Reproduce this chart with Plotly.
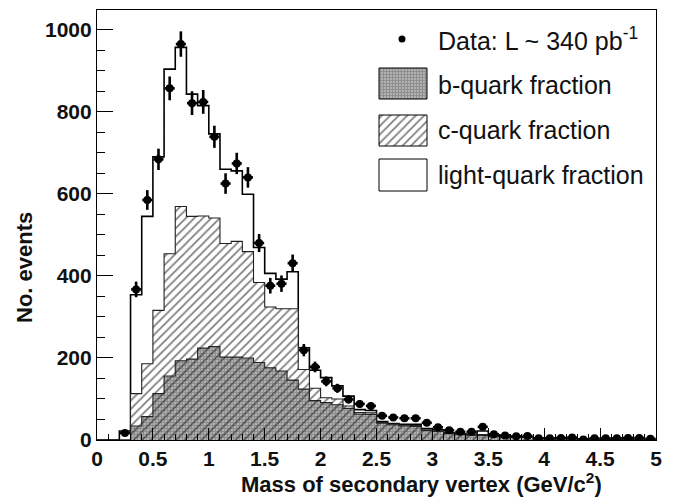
import plotly.graph_objects as go

# ---------------- data ----------------
bin_width = 0.1
bin_edges = [round(i * bin_width, 2) for i in range(51)]

# stacked MC histogram tops per 0.1 bin (0.0 ... 4.9)
total_mc = [0, 0, 22, 354, 545, 690, 904, 957, 843, 815,
            746, 660, 656, 599, 469, 406, 392, 410, 225, 170,
            152, 132, 107, 74, 72, 45, 40, 38, 38, 28,
            25, 18, 15, 14, 22, 10, 9, 8, 8, 5,
            4, 4, 3, 3, 3, 3, 2, 2, 2, 2]
bc_top = [0, 0, 0, 113, 186, 316, 454, 569, 545, 546,
          541, 479, 484, 459, 384, 324, 320, 320, 172, 126,
          103, 100, 83, 67, 66, 43, 39, 36, 35, 25,
          22, 17, 14, 13, 13, 9, 8, 7, 7, 4,
          3, 3, 3, 2, 2, 2, 2, 1, 1, 1]
b_top = [0, 0, 0, 34, 57, 113, 156, 193, 197, 224,
         228, 202, 202, 200, 189, 176, 168, 146, 124, 96,
         91, 86, 77, 63, 62, 41, 37, 34, 33, 23,
         21, 16, 13, 12, 11, 8, 7, 6, 6, 3,
         3, 3, 2, 2, 2, 2, 1, 1, 1, 1]

data_mass = [0.25, 0.35, 0.45, 0.55, 0.65, 0.75, 0.85, 0.95,
             1.05, 1.15, 1.25, 1.35, 1.45, 1.55, 1.65, 1.75, 1.85, 1.95,
             2.05, 2.15, 2.25, 2.35, 2.45, 2.55, 2.65, 2.75, 2.85, 2.95,
             3.05, 3.15, 3.25, 3.35, 3.45, 3.55, 3.65, 3.75, 3.85, 3.95,
             4.05, 4.15, 4.25, 4.35, 4.45, 4.55, 4.65, 4.75, 4.85, 4.95]
data_counts = [17, 367, 585, 684, 857, 965, 821, 824,
               739, 625, 674, 640, 480, 376, 381, 431, 219, 178,
               143, 126, 99, 88, 83, 59, 55, 53, 53, 42,
               31, 24, 20, 20, 32, 14, 11, 9, 10, 4,
               4, 5, 6, 1, 4, 4, 4, 5, 5, 3]
data_err = [4, 19, 24, 26, 29, 31, 29, 29,
            27, 25, 26, 25, 22, 19, 20, 21, 15, 13,
            12, 11, 10, 9, 9, 8, 7, 7, 7, 6,
            6, 5, 4, 4, 6, 4, 3, 3, 3, 2,
            2, 2, 2, 1, 2, 2, 2, 2, 2, 2]

legend_labels = ["Data: L ~ 340 pb<sup>-1</sup>", "b-quark fraction",
                 "c-quark fraction", "light-quark fraction"]

# ---------------- layout geometry ----------------
W, H = 678, 499
L, R, T, B = 97, 22, 10, 59
PX0, PX1 = L, W - R
PY0, PY1 = T, H - B
YMAX = 1048

FONT = "Liberation Sans, Arial, Helvetica, sans-serif"

def px(x):
    return (x - PX0) / (PX1 - PX0)

def py(y):
    return (PY1 - y) / (PY1 - PY0)

def step(vals):
    return list(vals) + [vals[-1]]

hatch_c = dict(shape="/", fgcolor="black", bgcolor="white", size=6, solidity=0.3)
dots_b = dict(shape=".", fgcolor="#202020", bgcolor="rgba(0,0,0,0)", size=3, solidity=0.8)

fig = go.Figure()

fig.add_trace(go.Scatter(x=bin_edges, y=step(total_mc), mode="lines", line_shape="hv",
                         line=dict(color="black", width=1.6), fill="tozeroy",
                         fillcolor="white", showlegend=False, hoverinfo="skip"))
fig.add_trace(go.Scatter(x=bin_edges, y=step(bc_top), mode="lines", line_shape="hv",
                         line=dict(color="#222", width=1.1), fill="tozeroy",
                         fillpattern=hatch_c, showlegend=False, hoverinfo="skip"))
fig.add_trace(go.Scatter(x=bin_edges, y=step(b_top), mode="lines", line_shape="hv",
                         line=dict(color="#222", width=1.1), fill="tozeroy",
                         fillpattern=dots_b, showlegend=False, hoverinfo="skip"))

fig.add_trace(go.Scatter(x=data_mass, y=data_counts, mode="markers",
                         marker=dict(color="black", size=8, symbol="circle"),
                         error_y=dict(type="data", array=data_err, thickness=2.6,
                                      width=0, color="black"),
                         error_x=dict(type="constant", value=0.045, thickness=2.6,
                                      width=0, color="black"),
                         showlegend=False, hoverinfo="skip"))

# ---------------- custom legend (overlay pixel axes) ----------------
sw_x0, sw_x1 = 379, 427
sw_rows = [(68, 99), (115, 146), (159, 191)]
sw_patterns = [dots_b, hatch_c, None]
for (y0, y1), pat in zip(sw_rows, sw_patterns):
    kw = dict(fillpattern=pat) if pat else dict(fillcolor="white")
    fig.add_trace(go.Scatter(x=[sw_x0, sw_x1, sw_x1, sw_x0, sw_x0],
                             y=[y0, y0, y1, y1, y0], mode="lines", fill="toself",
                             line=dict(color="black", width=1), xaxis="x2", yaxis="y2",
                             showlegend=False, hoverinfo="skip", **kw))
fig.add_trace(go.Scatter(x=[402], y=[39], mode="markers",
                         marker=dict(color="black", size=7), xaxis="x2", yaxis="y2",
                         showlegend=False, hoverinfo="skip"))

text_y = [39, 85, 130, 175]
annotations = []
for lab, ty in zip(legend_labels, text_y):
    annotations.append(dict(text=lab, x=px(436), y=py(ty), xref="paper", yref="paper",
                            xanchor="left", yanchor="middle", showarrow=False,
                            font=dict(family=FONT, size=25, color="#111")))

annotations.append(dict(text="<b>Mass of secondary vertex (GeV/c<sup>2</sup>)</b>",
                        x=px(421), y=py(483), xref="paper", yref="paper",
                        xanchor="center", yanchor="middle", showarrow=False,
                        font=dict(family=FONT, size=22, color="#111")))
annotations.append(dict(text="<b>No. events</b>", textangle=-90,
                        x=px(24), y=py(268), xref="paper", yref="paper",
                        xanchor="center", yanchor="middle", showarrow=False,
                        font=dict(family=FONT, size=22, color="#111")))

fig.update_layout(
    width=W, height=H,
    margin=dict(l=L, r=R, t=T, b=B, pad=0),
    paper_bgcolor="white", plot_bgcolor="white",
    showlegend=False, hovermode=False,
    annotations=annotations,
    xaxis=dict(range=[0, 5], dtick=0.5, tick0=0, ticks="inside", ticklen=12,
               tickwidth=1, tickcolor="black", showline=True, linecolor="black",
               linewidth=1.2, mirror=True, showgrid=False, zeroline=False,
               minor=dict(dtick=0.1, ticks="inside", ticklen=6, tickcolor="black",
                          showgrid=False),
               tickfont=dict(family=FONT, size=21, color="#111", weight="bold")),
    yaxis=dict(range=[0, YMAX], dtick=200, tick0=0, ticks="inside", ticklen=16,
               tickwidth=1, tickcolor="black", showline=True, linecolor="black",
               linewidth=1.2, mirror=True, showgrid=False, zeroline=False,
               minor=dict(dtick=50, ticks="inside", ticklen=8, tickcolor="black",
                          showgrid=False),
               tickfont=dict(family=FONT, size=21, color="#111", weight="bold")),
    xaxis2=dict(overlaying="x", range=[PX0, PX1], visible=False, anchor="y2"),
    yaxis2=dict(overlaying="y", range=[PY1, PY0], visible=False, anchor="x2"),
)

fig.write_html("out.html", config={"displayModeBar": False},
               post_script="document.body.style.margin='0';document.body.style.overflow='hidden';")
